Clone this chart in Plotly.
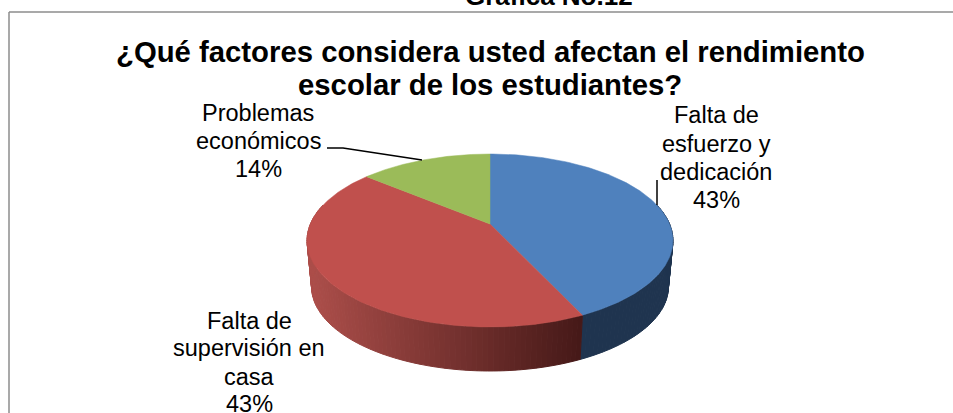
import numpy as np
import plotly.graph_objects as go

# ---- data ----
categories = ["Falta de esfuerzo y dedicación", "Falta de supervisión en casa", "Problemas económicos"]
values = [43, 43, 14]
label_lines = [["Falta de", "esfuerzo y", "dedicación", "43%"],
               ["Falta de", "supervisión en", "casa", "43%"],
               ["Problemas", "económicos", "14%"]]
title_lines = ["¿Qué factores considera usted afectan el rendimiento", "escolar de los estudiantes?"]
heading_text = "Gráfica No.12"

# ---- style ----
top_colors = ["#4F81BD", "#C0504D", "#9BBB59"]
CX, APEX_Y, A, B, P = 490.0, 224.0, 179.6, 40.6, -0.19075
BOTTOM_SCALE, BOTTOM_SHIFT = 0.975, 46.6
label_pos = [(716, [115, 144, 172, 200]), (249, [321, 348, 377, 404]), (258, [113, 141, 169])]
title_pos = [(490, 51), (490, 84)]
HEAD_H = 413


def rim(theta):
    u, v = np.sin(theta), -np.cos(theta)
    d = 1 + P * v
    return CX + A * u / d, (APEX_Y + B * v) / d


def lower(x, y):
    return CX + (x - CX) * BOTTOM_SCALE, APEX_Y + (y - APEX_Y) * BOTTOM_SCALE + BOTTOM_SHIFT


def mix(c1, c2, t):
    return "rgb(%d,%d,%d)" % tuple(round(a + (b - a) * t) for a, b in zip(c1, c2))


fig = go.Figure()
total = sum(values)
edges = np.cumsum([0] + values) / total * 2 * np.pi

# side wall, only the front half of the rim is visible
for i, name in enumerate(categories):
    start, stop = edges[i], edges[i + 1]
    n = max(2, int((stop - start) / 0.025))
    steps = np.linspace(start, stop, n + 1)
    for a0, a1 in zip(steps[:-1], steps[1:]):
        if np.cos((a0 + a1) / 2) > 0.25:
            continue
        x0, y0 = rim(a0)
        x1, y1 = rim(a1)
        bx0, by0 = lower(x0, y0)
        bx1, by1 = lower(x1, y1)
        if i == 0:
            col = "#1F344F"
        elif i == 1:
            t = np.clip((x0 - 310) / (583 - 310), 0, 1)
            col = mix((172, 78, 74), (70, 25, 24), t)
        else:
            col = "#6B8A3A"
        fig.add_trace(go.Scatter(x=[x0, x1, bx1, bx0, x0], y=[y0, y1, by1, by0, y0], mode="lines",
                                 fill="toself", fillcolor=col, line=dict(color=col, width=1),
                                 hoverinfo="skip", showlegend=False))

# top surface
for i, name in enumerate(categories):
    th = np.linspace(edges[i], edges[i + 1], 160)
    xs, ys = rim(th)
    xs = np.concatenate([[CX], xs, [CX]])
    ys = np.concatenate([[APEX_Y], ys, [APEX_Y]])
    fig.add_trace(go.Scatter(x=xs, y=ys, mode="lines", fill="toself", fillcolor=top_colors[i],
                             line=dict(color=top_colors[i], width=0.5), name=name,
                             text=f"{name}: {values[i]}%", hoverinfo="text", showlegend=False))

# labels
for (lx, lys), lines in zip(label_pos, label_lines):
    for ly, line in zip(lys, lines):
        fig.add_annotation(x=lx, y=ly, text=line, showarrow=False, xref="x", yref="y",
                           font=dict(family="Liberation Sans", size=23.5, color="#000000"))

# leader lines
fig.add_trace(go.Scatter(x=[327, 343, 422], y=[148, 148, 160], mode="lines",
                         line=dict(color="#000000", width=1.5), hoverinfo="skip", showlegend=False))
fig.add_trace(go.Scatter(x=[657, 657], y=[180, 205], mode="lines",
                         line=dict(color="#000000", width=1.5), hoverinfo="skip", showlegend=False))

# title lines
for (tx, ty), line in zip(title_pos, title_lines):
    fig.add_annotation(x=tx, y=ty, text="<b>" + line + "</b>", showarrow=False, xref="x", yref="y",
                       font=dict(family="Liberation Sans", size=29.3, color="#000000"))
fig.add_annotation(x=549, y=1 + 4 / HEAD_H, text="<b>" + heading_text + "</b>", showarrow=False,
                   xref="x", yref="paper", yanchor="middle",
                   font=dict(family="Liberation Sans", size=26, color="#000000"))

# chart frame
fig.add_shape(type="line", x0=9, x1=953, y0=12, y1=12, xref="x", yref="y", line=dict(color="#8C8C8C", width=1.5))
fig.add_shape(type="line", x0=9, x1=9, y0=12, y1=413, xref="x", yref="y", line=dict(color="#8C8C8C", width=1.5))

fig.update_layout(width=953, height=413, margin=dict(l=0, r=0, t=0, b=0),
                  paper_bgcolor="#FFFFFF", plot_bgcolor="#FFFFFF", showlegend=False,
                  xaxis=dict(range=[0, 953], visible=False, fixedrange=True),
                  yaxis=dict(range=[413, 0], visible=False, fixedrange=True))
fig.write_html("out.html", config={"displayModeBar": False},
               post_script="document.body.style.margin='0';document.body.style.overflow='hidden';")
